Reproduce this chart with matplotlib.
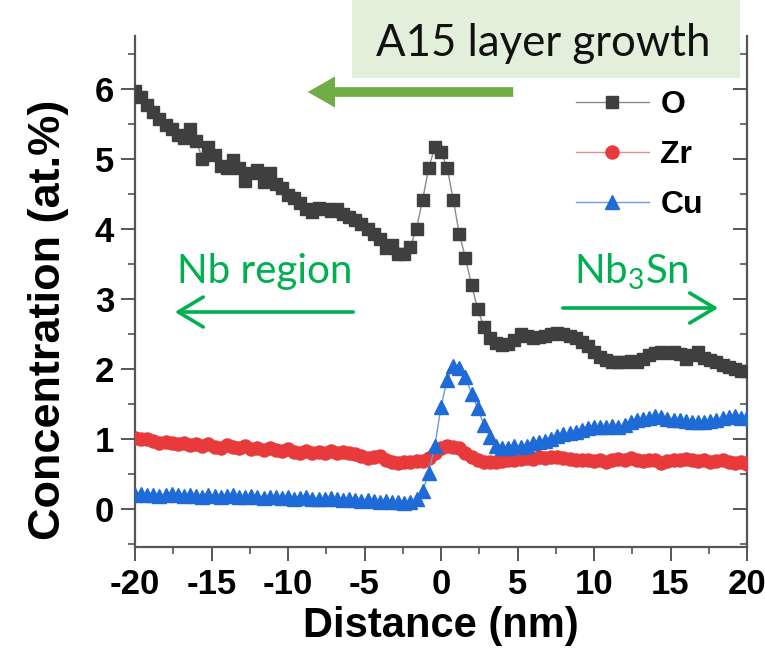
import numpy as np
import matplotlib
matplotlib.use("Agg")
import matplotlib.pyplot as plt
from matplotlib.ticker import MultipleLocator

# Line-scan distance across the Nb / Nb3Sn interface (nm)
distance = np.round(np.linspace(-20.0, 20.0, 101), 1)

# Oxygen concentration (at.%)
conc_O = [
    5.96, 5.88, 5.76, 5.66, 5.57, 5.48, 5.42, 5.33, 5.30, 5.42,
    5.25, 5.00, 5.17, 5.05, 4.90, 4.86, 4.98, 4.86, 4.68, 4.80,
    4.83, 4.66, 4.79, 4.63, 4.58, 4.48, 4.43, 4.36, 4.28, 4.24,
    4.29, 4.28, 4.25, 4.28, 4.21, 4.16, 4.12, 4.06, 4.00, 3.92,
    3.85, 3.72, 3.77, 3.63, 3.64, 3.74, 4.00, 4.41, 4.87, 5.16,
    5.10, 4.87, 4.41, 3.92, 3.58, 3.19, 2.85, 2.59, 2.44, 2.37,
    2.34, 2.35, 2.41, 2.49, 2.46, 2.44, 2.45, 2.47, 2.49, 2.51,
    2.50, 2.47, 2.44, 2.38, 2.32, 2.24, 2.17, 2.12, 2.09, 2.10,
    2.10, 2.11, 2.10, 2.14, 2.19, 2.22, 2.23, 2.22, 2.23, 2.21,
    2.14, 2.20, 2.24, 2.15, 2.12, 2.10, 2.05, 2.02, 1.99, 1.97,
    1.96,
]

# Zirconium concentration (at.%)
conc_Zr = [
    1.01, 1.00, 1.00, 0.97, 0.94, 0.95, 0.94, 0.92, 0.93, 0.91,
    0.92, 0.90, 0.92, 0.88, 0.87, 0.91, 0.88, 0.86, 0.89, 0.85,
    0.86, 0.84, 0.87, 0.83, 0.82, 0.85, 0.81, 0.80, 0.82, 0.79,
    0.81, 0.80, 0.82, 0.79, 0.81, 0.80, 0.78, 0.75, 0.72, 0.73,
    0.75, 0.70, 0.66, 0.65, 0.67, 0.66, 0.68, 0.68, 0.72, 0.80,
    0.87, 0.89, 0.88, 0.86, 0.80, 0.74, 0.69, 0.66, 0.67, 0.66,
    0.68, 0.70, 0.69, 0.71, 0.72, 0.71, 0.73, 0.72, 0.74, 0.73,
    0.72, 0.71, 0.70, 0.69, 0.70, 0.68, 0.69, 0.67, 0.70, 0.71,
    0.69, 0.72, 0.70, 0.68, 0.70, 0.69, 0.65, 0.68, 0.70, 0.69,
    0.71, 0.70, 0.68, 0.69, 0.67, 0.68, 0.69, 0.67, 0.65, 0.66,
    0.64,
]

# Copper concentration (at.%)
conc_Cu = [
    0.20, 0.21, 0.19, 0.20, 0.18, 0.19, 0.21, 0.19, 0.18, 0.20,
    0.18, 0.17, 0.19, 0.18, 0.17, 0.18, 0.20, 0.17, 0.16, 0.18,
    0.17, 0.15, 0.16, 0.17, 0.15, 0.16, 0.14, 0.15, 0.16, 0.14,
    0.13, 0.14, 0.15, 0.13, 0.12, 0.13, 0.12, 0.11, 0.12, 0.11,
    0.10, 0.11, 0.10, 0.09, 0.08, 0.10, 0.13, 0.25, 0.51, 0.90,
    1.45, 1.84, 2.03, 2.01, 1.88, 1.64, 1.43, 1.20, 1.02, 0.90,
    0.87, 0.87, 0.89, 0.88, 0.90, 0.93, 0.95, 0.97, 1.00, 1.03,
    1.06, 1.08, 1.10, 1.12, 1.15, 1.16, 1.17, 1.16, 1.18, 1.17,
    1.20, 1.24, 1.26, 1.28, 1.30, 1.32, 1.31, 1.28, 1.27, 1.26,
    1.25, 1.24, 1.23, 1.24, 1.25, 1.27, 1.30, 1.31, 1.32, 1.30,
    1.31,
]

x_ticks = [-20, -15, -10, -5, 0, 5, 10, 15, 20]
y_ticks = [0, 1, 2, 3, 4, 5, 6]

W, H = 765, 650
fig = plt.figure(figsize=(W / 100, H / 100), dpi=100)
fig.patch.set_facecolor("white")

left_px, right_px, bottom_px, top_px = 135, 747, 547, 36
ax = fig.add_axes([left_px / W, 1 - bottom_px / H,
                   (right_px - left_px) / W, (bottom_px - top_px) / H])

axis_font = ["Liberation Sans", "DejaVu Sans"]

ax.plot(distance, conc_O, color="#8a8a8a", lw=1.0, marker="s", ms=8.8,
        mfc="#3f3f3f", mec="#3f3f3f", label="O", zorder=3)
ax.plot(distance, conc_Zr, color="#e88a8a", lw=1.0, marker="o", ms=9.4,
        mfc="#e8393b", mec="#e8393b", label="Zr", zorder=4)
ax.plot(distance, conc_Cu, color="#6f9ad8", lw=1.0, marker="^", ms=10.2,
        mfc="#1e6ad6", mec="#1e6ad6", label="Cu", zorder=5)

ax.set_xlim(-20, 20)
ax.set_ylim(-0.55, 6.75)
ax.set_xticks(x_ticks)
ax.set_xticklabels([str(v) for v in x_ticks])
ax.set_yticks(y_ticks)
ax.xaxis.set_minor_locator(MultipleLocator(2.5))
ax.yaxis.set_minor_locator(MultipleLocator(0.5))

for s in ["left", "bottom", "right"]:
    ax.spines[s].set_color("#555555")
    ax.spines[s].set_linewidth(1.6)
ax.spines["top"].set_visible(False)

ax.tick_params(axis="both", which="major", length=10, width=1.4, color="#555555",
               labelsize=25, pad=5)
ax.tick_params(axis="both", which="minor", length=5, width=1.2, color="#555555")
ax.tick_params(axis="y", which="both", direction="out", right=True)
ax.tick_params(axis="x", which="both", direction="out")

# right-side mirrored ticks point into the plot
for t in ax.yaxis.get_major_ticks() + ax.yaxis.get_minor_ticks():
    t.tick2line.set_marker(matplotlib.lines.TICKLEFT)

for lab in ax.get_xticklabels() + ax.get_yticklabels():
    lab.set_fontfamily(axis_font)
    lab.set_fontweight("bold")

ax.set_xlabel("Distance (nm)", fontsize=30, fontweight="bold",
              family=axis_font, labelpad=4)
ax.set_ylabel("Concentration (at.%)", fontsize=32.5, fontweight="bold",
              family=axis_font)
ax.yaxis.set_label_coords(-0.108, 0.444)

leg = ax.legend(loc="upper right", bbox_to_anchor=(0.975, 0.95), frameon=False,
                prop={"family": axis_font, "weight": "bold", "size": 23},
                handlelength=2.3, handletextpad=0.35, labelspacing=0.62)


def fpos(px, py):
    return (px / W, 1 - py / H)


# "A15 layer growth" banner
bx0, by0, bx1, by1 = 352, -5, 740, 78
fig.patches.append(matplotlib.patches.Rectangle(
    fpos(bx0, by1), (bx1 - bx0) / W, (by1 - by0) / H,
    transform=fig.transFigure, facecolor="#e2efda", edgecolor="none", zorder=10))
fig.text(*fpos(543, 43), "A15 layer growth", ha="center", va="center",
         fontsize=31.5, family=["Lato", "DejaVu Sans"], color="#111111", zorder=11)

# thick growth-direction arrow
fig.add_artist(matplotlib.patches.FancyArrowPatch(
    fpos(516, 92), fpos(305, 92), transform=fig.transFigure,
    arrowstyle="simple,head_length=1.4,head_width=1.6,tail_width=0.5",
    mutation_scale=14, color="#70ad47", lw=0, zorder=11))

green = "#00b050"
fig.text(*fpos(265, 272), "Nb region", ha="center", va="center",
         fontsize=29, family=["Lato", "DejaVu Sans"], color=green, zorder=11)
fig.text(*fpos(631, 272), r"Nb$_\mathregular{3}$Sn", ha="center", va="center",
         fontsize=29, family=["Lato", "DejaVu Sans"], color=green, zorder=11)

for (xs, xe, yy) in [(356, 172, 312), (560, 721, 308)]:
    fig.add_artist(matplotlib.patches.FancyArrowPatch(
        fpos(xs, yy), fpos(xe, yy), transform=fig.transFigure,
        arrowstyle="->,head_length=1.0,head_width=0.6", mutation_scale=18,
        color=green, lw=2.6, zorder=11))

fig.savefig("out.png", dpi=100)
